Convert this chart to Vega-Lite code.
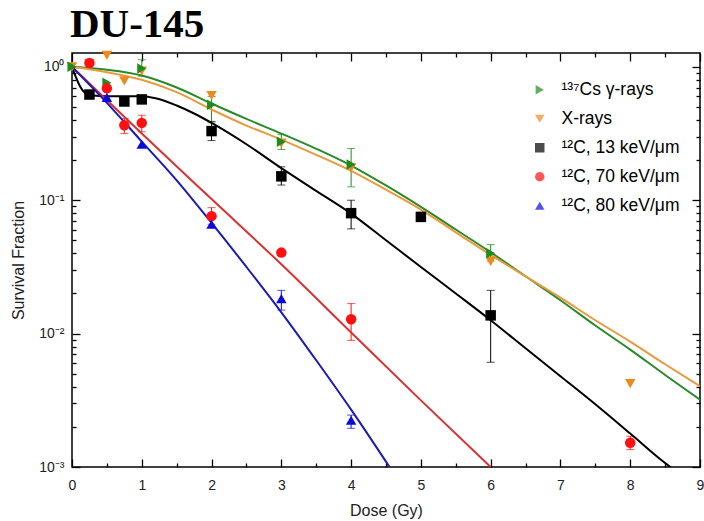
{
  "$schema": "https://vega.github.io/schema/vega-lite/v6.json",
  "width": 628,
  "height": 414,
  "autosize": {"type": "none"},
  "padding": {"left": 72, "top": 53, "right": 4, "bottom": 54},
  "title": {"text": "DU-145", "font": "Liberation Serif", "fontSize": 41, "fontWeight": "bold", "anchor": "start", "frame": "group", "color": "black", "offset": 5, "dx": -2},
  "config": {
    "view": {"stroke": "black", "strokeWidth": 1.5},
    "axis": {"grid": false, "domain": false, "tickColor": "black", "tickWidth": 1.3, "labelFont": "Liberation Sans", "labelFontSize": 14, "labelColor": "#222", "titleFont": "Liberation Sans", "titleFontSize": 16, "titleFontWeight": "normal", "titleColor": "#222", "labelOverlap": false, "labelFlush": false}
  },
  "datasets": {
    "points": [
      {"series": "X-rays", "dose": 0, "sf": 1.0},
      {"series": "X-rays", "dose": 0.25, "sf": 1.06},
      {"series": "X-rays", "dose": 0.5, "sf": 1.22},
      {"series": "X-rays", "dose": 0.75, "sf": 0.785},
      {"series": "X-rays", "dose": 1, "sf": 0.93},
      {"series": "X-rays", "dose": 2, "sf": 0.61},
      {"series": "X-rays", "dose": 3, "sf": 0.268},
      {"series": "X-rays", "dose": 4, "sf": 0.175},
      {"series": "X-rays", "dose": 6, "sf": 0.0348},
      {"series": "X-rays", "dose": 8, "sf": 0.00422},
      {"series": "¹³⁷Cs γ-rays", "dose": 0, "sf": 1.0},
      {"series": "¹³⁷Cs γ-rays", "dose": 0.5, "sf": 0.76},
      {"series": "¹³⁷Cs γ-rays", "dose": 1, "sf": 0.97, "lo": 0.85, "hi": 1.13},
      {"series": "¹³⁷Cs γ-rays", "dose": 2, "sf": 0.52, "lo": 0.38, "hi": 0.6},
      {"series": "¹³⁷Cs γ-rays", "dose": 3, "sf": 0.274, "lo": 0.24, "hi": 0.31},
      {"series": "¹³⁷Cs γ-rays", "dose": 4, "sf": 0.185, "lo": 0.126, "hi": 0.244},
      {"series": "¹³⁷Cs γ-rays", "dose": 6, "sf": 0.04, "lo": 0.035, "hi": 0.0465},
      {"series": "¹²C, 13 keV/μm", "dose": 0.25, "sf": 0.62},
      {"series": "¹²C, 13 keV/μm", "dose": 0.75, "sf": 0.55},
      {"series": "¹²C, 13 keV/μm", "dose": 1, "sf": 0.57},
      {"series": "¹²C, 13 keV/μm", "dose": 2, "sf": 0.33, "lo": 0.28, "hi": 0.39},
      {"series": "¹²C, 13 keV/μm", "dose": 3, "sf": 0.151, "lo": 0.13, "hi": 0.178},
      {"series": "¹²C, 13 keV/μm", "dose": 4, "sf": 0.08, "lo": 0.061, "hi": 0.1},
      {"series": "¹²C, 13 keV/μm", "dose": 5, "sf": 0.075},
      {"series": "¹²C, 13 keV/μm", "dose": 6, "sf": 0.0137, "lo": 0.0061, "hi": 0.0211},
      {"series": "¹²C, 70 keV/μm", "dose": 0.25, "sf": 1.07},
      {"series": "¹²C, 70 keV/μm", "dose": 0.5, "sf": 0.69},
      {"series": "¹²C, 70 keV/μm", "dose": 0.75, "sf": 0.365, "lo": 0.316, "hi": 0.41},
      {"series": "¹²C, 70 keV/μm", "dose": 1, "sf": 0.38, "lo": 0.326, "hi": 0.434},
      {"series": "¹²C, 70 keV/μm", "dose": 2, "sf": 0.076, "lo": 0.066, "hi": 0.088},
      {"series": "¹²C, 70 keV/μm", "dose": 3, "sf": 0.0405},
      {"series": "¹²C, 70 keV/μm", "dose": 4, "sf": 0.0128, "lo": 0.0089, "hi": 0.0168},
      {"series": "¹²C, 70 keV/μm", "dose": 8, "sf": 0.00152, "lo": 0.00135, "hi": 0.0017},
      {"series": "¹²C, 80 keV/μm", "dose": 0.5, "sf": 0.59},
      {"series": "¹²C, 80 keV/μm", "dose": 1, "sf": 0.263},
      {"series": "¹²C, 80 keV/μm", "dose": 2, "sf": 0.066},
      {"series": "¹²C, 80 keV/μm", "dose": 3, "sf": 0.0183, "lo": 0.015, "hi": 0.0211},
      {"series": "¹²C, 80 keV/μm", "dose": 4, "sf": 0.00224, "lo": 0.00195, "hi": 0.00245}
    ],
    "fits": [
      {"series": "¹³⁷Cs γ-rays", "dose": 0, "sf": 1.0},
      {"series": "¹³⁷Cs γ-rays", "dose": 0.5, "sf": 0.95},
      {"series": "¹³⁷Cs γ-rays", "dose": 1, "sf": 0.86},
      {"series": "¹³⁷Cs γ-rays", "dose": 1.5, "sf": 0.7},
      {"series": "¹³⁷Cs γ-rays", "dose": 2, "sf": 0.531},
      {"series": "¹³⁷Cs γ-rays", "dose": 2.5, "sf": 0.407},
      {"series": "¹³⁷Cs γ-rays", "dose": 3, "sf": 0.316},
      {"series": "¹³⁷Cs γ-rays", "dose": 3.5, "sf": 0.243},
      {"series": "¹³⁷Cs γ-rays", "dose": 4, "sf": 0.182},
      {"series": "¹³⁷Cs γ-rays", "dose": 4.5, "sf": 0.129},
      {"series": "¹³⁷Cs γ-rays", "dose": 5, "sf": 0.0891},
      {"series": "¹³⁷Cs γ-rays", "dose": 5.5, "sf": 0.0603},
      {"series": "¹³⁷Cs γ-rays", "dose": 6, "sf": 0.0407},
      {"series": "¹³⁷Cs γ-rays", "dose": 6.5, "sf": 0.0269},
      {"series": "¹³⁷Cs γ-rays", "dose": 7, "sf": 0.0178},
      {"series": "¹³⁷Cs γ-rays", "dose": 7.5, "sf": 0.0115},
      {"series": "¹³⁷Cs γ-rays", "dose": 8, "sf": 0.00759},
      {"series": "¹³⁷Cs γ-rays", "dose": 8.5, "sf": 0.0049},
      {"series": "¹³⁷Cs γ-rays", "dose": 9, "sf": 0.0032},
      {"series": "X-rays", "dose": 0, "sf": 1.0},
      {"series": "X-rays", "dose": 0.5, "sf": 0.912},
      {"series": "X-rays", "dose": 1, "sf": 0.8},
      {"series": "X-rays", "dose": 1.5, "sf": 0.646},
      {"series": "X-rays", "dose": 2, "sf": 0.479},
      {"series": "X-rays", "dose": 2.5, "sf": 0.363},
      {"series": "X-rays", "dose": 3, "sf": 0.285},
      {"series": "X-rays", "dose": 3.5, "sf": 0.219},
      {"series": "X-rays", "dose": 4, "sf": 0.166},
      {"series": "X-rays", "dose": 4.5, "sf": 0.12},
      {"series": "X-rays", "dose": 5, "sf": 0.0851},
      {"series": "X-rays", "dose": 5.5, "sf": 0.0575},
      {"series": "X-rays", "dose": 6, "sf": 0.0389},
      {"series": "X-rays", "dose": 6.5, "sf": 0.0269},
      {"series": "X-rays", "dose": 7, "sf": 0.0186},
      {"series": "X-rays", "dose": 7.5, "sf": 0.0126},
      {"series": "X-rays", "dose": 8, "sf": 0.00871},
      {"series": "X-rays", "dose": 8.5, "sf": 0.00589},
      {"series": "X-rays", "dose": 9, "sf": 0.00403},
      {"series": "¹²C, 13 keV/μm", "dose": 0, "sf": 1.0},
      {"series": "¹²C, 13 keV/μm", "dose": 0.05, "sf": 0.851},
      {"series": "¹²C, 13 keV/μm", "dose": 0.1, "sf": 0.741},
      {"series": "¹²C, 13 keV/μm", "dose": 0.15, "sf": 0.668},
      {"series": "¹²C, 13 keV/μm", "dose": 0.2, "sf": 0.631},
      {"series": "¹²C, 13 keV/μm", "dose": 0.3, "sf": 0.61},
      {"series": "¹²C, 13 keV/μm", "dose": 0.5, "sf": 0.603},
      {"series": "¹²C, 13 keV/μm", "dose": 0.8, "sf": 0.603},
      {"series": "¹²C, 13 keV/μm", "dose": 1.0, "sf": 0.603},
      {"series": "¹²C, 13 keV/μm", "dose": 1.2, "sf": 0.582},
      {"series": "¹²C, 13 keV/μm", "dose": 1.5, "sf": 0.513},
      {"series": "¹²C, 13 keV/μm", "dose": 1.75, "sf": 0.447},
      {"series": "¹²C, 13 keV/μm", "dose": 2, "sf": 0.38},
      {"series": "¹²C, 13 keV/μm", "dose": 2.5, "sf": 0.263},
      {"series": "¹²C, 13 keV/μm", "dose": 3, "sf": 0.174},
      {"series": "¹²C, 13 keV/μm", "dose": 3.5, "sf": 0.1175},
      {"series": "¹²C, 13 keV/μm", "dose": 4, "sf": 0.0794},
      {"series": "¹²C, 13 keV/μm", "dose": 4.5, "sf": 0.0501},
      {"series": "¹²C, 13 keV/μm", "dose": 5, "sf": 0.0316},
      {"series": "¹²C, 13 keV/μm", "dose": 5.5, "sf": 0.02},
      {"series": "¹²C, 13 keV/μm", "dose": 6, "sf": 0.0126},
      {"series": "¹²C, 13 keV/μm", "dose": 6.5, "sf": 0.00776},
      {"series": "¹²C, 13 keV/μm", "dose": 7, "sf": 0.00479},
      {"series": "¹²C, 13 keV/μm", "dose": 7.5, "sf": 0.00295},
      {"series": "¹²C, 13 keV/μm", "dose": 8, "sf": 0.00178},
      {"series": "¹²C, 13 keV/μm", "dose": 8.5, "sf": 0.00107},
      {"series": "¹²C, 13 keV/μm", "dose": 8.6, "sf": 0.000977},
      {"series": "¹²C, 70 keV/μm", "dose": 0, "sf": 1.0},
      {"series": "¹²C, 70 keV/μm", "dose": 1, "sf": 0.316},
      {"series": "¹²C, 70 keV/μm", "dose": 2, "sf": 0.102},
      {"series": "¹²C, 70 keV/μm", "dose": 3, "sf": 0.0331},
      {"series": "¹²C, 70 keV/μm", "dose": 4, "sf": 0.0102},
      {"series": "¹²C, 70 keV/μm", "dose": 5, "sf": 0.00316},
      {"series": "¹²C, 70 keV/μm", "dose": 6, "sf": 0.001},
      {"series": "¹²C, 80 keV/μm", "dose": 0, "sf": 1.0},
      {"series": "¹²C, 80 keV/μm", "dose": 0.5, "sf": 0.537},
      {"series": "¹²C, 80 keV/μm", "dose": 1, "sf": 0.275},
      {"series": "¹²C, 80 keV/μm", "dose": 1.5, "sf": 0.141},
      {"series": "¹²C, 80 keV/μm", "dose": 2, "sf": 0.0676},
      {"series": "¹²C, 80 keV/μm", "dose": 2.5, "sf": 0.0316},
      {"series": "¹²C, 80 keV/μm", "dose": 3, "sf": 0.01445},
      {"series": "¹²C, 80 keV/μm", "dose": 3.5, "sf": 0.00631},
      {"series": "¹²C, 80 keV/μm", "dose": 4, "sf": 0.00269},
      {"series": "¹²C, 80 keV/μm", "dose": 4.55, "sf": 0.001}
    ]
  },
  "layer": [
    {
      "data": {"name": "points"},
      "transform": [{"filter": "isValid(datum.lo)"}],
      "mark": {"type": "errorbar", "ticks": {"size": 8}, "thickness": 1},
      "encoding": {
        "x": {"field": "dose", "type": "quantitative", "scale": {"domain": [0, 9], "nice": false, "zero": false}, "axis": null},
        "y": {"field": "lo", "type": "quantitative", "scale": {"type": "log", "domain": [0.001, 1.27], "nice": false}, "axis": null},
        "y2": {"field": "hi"},
        "color": {"field": "series", "type": "nominal", "title": null,
          "scale": {"domain": ["¹³⁷Cs γ-rays", "X-rays", "¹²C, 13 keV/μm", "¹²C, 70 keV/μm", "¹²C, 80 keV/μm"], "range": ["#1e8c1e", "#ee8a1c", "#000000", "#ff1010", "#0a0adc"]}}
      }
    },
    {
      "data": {"name": "fits"},
      "mark": {"type": "line", "strokeWidth": 2, "clip": true, "interpolate": "monotone"},
      "encoding": {
        "x": {"field": "dose", "type": "quantitative",
          "axis": {"orient": "bottom", "title": "Dose (Gy)", "values": [0,0.5,1,1.5,2,2.5,3,3.5,4,4.5,5,5.5,6,6.5,7,7.5,8,8.5,9],
            "labelExpr": "datum.value % 1 === 0 ? format(datum.value, 'd') : ''",
            "tickSize": {"condition": {"test": "datum.value % 1 === 0", "value": -8}, "value": -4},
            "labelPadding": 19, "titlePadding": 6}},
        "y": {"field": "sf", "type": "quantitative",
          "axis": {"orient": "left", "title": "Survival Fraction",
            "values": [0.001,0.002,0.003,0.004,0.005,0.006,0.007,0.008,0.009,0.01,0.02,0.03,0.04,0.05,0.06,0.07,0.08,0.09,0.1,0.2,0.3,0.4,0.5,0.6,0.7,0.8,0.9,1],
            "labelExpr": "datum.value === 1 ? '10⁰' : datum.value === 0.1 ? '10⁻¹' : datum.value === 0.01 ? '10⁻²' : datum.value === 0.001 ? '10⁻³' : ''",
            "tickSize": {"condition": {"test": "indexof([1, 0.1, 0.01, 0.001], datum.value) >= 0", "value": -8}, "value": -4},
            "labelPadding": 16, "titlePadding": 12}},
        "detail": {"field": "series"},
        "stroke": {"field": "series", "type": "nominal", "legend": null,
          "scale": {"domain": ["¹³⁷Cs γ-rays", "X-rays", "¹²C, 13 keV/μm", "¹²C, 70 keV/μm", "¹²C, 80 keV/μm"], "range": ["#2a8a2a", "#e89a3c", "#000000", "#d83232", "#1a1ab8"]}}
      }
    },
    {
      "data": {"name": "points"},
      "mark": {"type": "point", "filled": true, "opacity": 1, "size": 110, "strokeWidth": 0},
      "encoding": {
        "x": {"field": "dose", "type": "quantitative",
          "axis": {"orient": "top", "title": null, "labels": false, "values": [0,0.5,1,1.5,2,2.5,3,3.5,4,4.5,5,5.5,6,6.5,7,7.5,8,8.5,9],
            "tickSize": {"condition": {"test": "datum.value % 1 === 0", "value": -8}, "value": -4}}},
        "y": {"field": "sf", "type": "quantitative",
          "axis": {"orient": "right", "title": null, "labels": false,
            "values": [0.001,0.002,0.003,0.004,0.005,0.006,0.007,0.008,0.009,0.01,0.02,0.03,0.04,0.05,0.06,0.07,0.08,0.09,0.1,0.2,0.3,0.4,0.5,0.6,0.7,0.8,0.9,1],
            "tickSize": {"condition": {"test": "indexof([1, 0.1, 0.01, 0.001], datum.value) >= 0", "value": -8}, "value": -4}}},
        "color": {"field": "series", "type": "nominal", "title": null,
          "scale": {"domain": ["¹³⁷Cs γ-rays", "X-rays", "¹²C, 13 keV/μm", "¹²C, 70 keV/μm", "¹²C, 80 keV/μm"], "range": ["#1e8c1e", "#ee8a1c", "#000000", "#ff1010", "#0a0adc"]},
          "legend": {"orient": "none", "legendX": 459, "legendY": 28, "labelFont": "Liberation Sans", "labelFontSize": 17.5, "labelColor": "black", "symbolSize": 90, "symbolOpacity": 1, "rowPadding": 10, "labelOffset": 13, "padding": 0, "symbolStrokeWidth": 0}},
        "shape": {"field": "series", "type": "nominal", "title": null,
          "scale": {"domain": ["¹³⁷Cs γ-rays", "X-rays", "¹²C, 13 keV/μm", "¹²C, 70 keV/μm", "¹²C, 80 keV/μm"], "range": ["triangle-right", "triangle-down", "square", "circle", "triangle-up"]},
          "legend": {"orient": "none", "legendX": 459, "legendY": 28, "labelFont": "Liberation Sans", "labelFontSize": 17.5, "labelColor": "black", "symbolSize": 90, "symbolOpacity": 1, "rowPadding": 10, "labelOffset": 13, "padding": 0, "symbolStrokeWidth": 0}}
      }
    }
  ],
  "resolve": {"axis": {"x": "independent", "y": "independent"}}
}
